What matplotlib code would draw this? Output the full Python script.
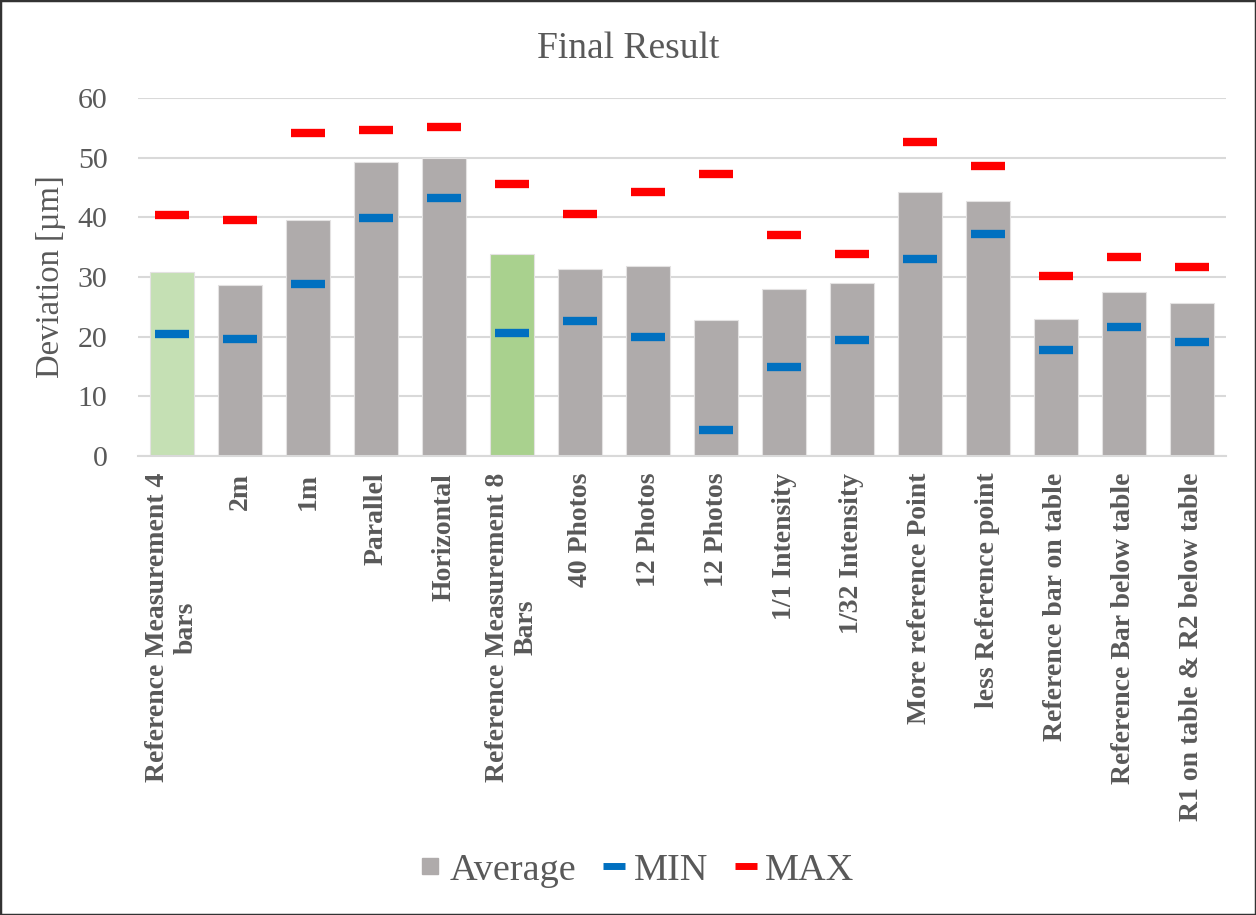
import numpy as np
import matplotlib.pyplot as plt
from matplotlib.patches import Rectangle
from matplotlib.lines import Line2D

plt.rcParams['font.family'] = ['Liberation Serif', 'DejaVu Serif']

categories = [
    "Reference Measurement 4\nbars", "2m", "1m", "Parallel", "Horizontal",
    "Reference Measurement 8\nBars", "40 Photos", "12 Photos", "12 Photos",
    "1/1 Intensity", "1/32 Intensity", "More reference Point",
    "less Reference point", "Reference bar on table",
    "Reference Bar below table", "R1 on table & R2 below table",
]
average = [30.9, 28.6, 39.5, 49.2, 50.0, 33.8, 31.3, 31.8, 22.8, 28.0, 29.0, 44.3, 42.7, 22.9, 27.5, 25.6]
minimum = [20.4, 19.6, 28.9, 39.9, 43.2, 20.7, 22.6, 19.9, 4.4, 14.9, 19.5, 33.1, 37.2, 17.8, 21.6, 19.1]
maximum = [40.4, 39.5, 54.2, 54.7, 55.2, 45.6, 40.6, 44.3, 47.2, 37.1, 33.8, 52.7, 48.6, 30.2, 33.3, 31.7]

GREY = '#AFABAB'
bar_colors = [GREY] * len(categories)
bar_colors[0] = '#C5E0B4'
bar_colors[5] = '#A9D18E'
TEXT = '#595959'

fig = plt.figure(figsize=(12.56, 9.15), dpi=100)
ax = fig.add_axes([0.1099, 0.5016, 0.8662, 0.3913])

x = np.arange(len(categories))
ax.bar(x, average, width=0.66, color=bar_colors, edgecolor='#E4E2E2', linewidth=0.8, zorder=2)
ax.plot(x, minimum, linestyle='none', marker='_', markersize=25, mew=6,
        color='#0070C0', zorder=3)
ax.plot(x, maximum, linestyle='none', marker='_', markersize=25, mew=6,
        color='#FF0000', zorder=3)

ax.set_xlim(-0.5, len(categories) - 0.5)
ax.set_ylim(0, 60)
ax.set_yticks(range(0, 61, 10))
ax.yaxis.grid(True, color='#D9D9D9', linewidth=1.5, zorder=0)
ax.set_axisbelow(True)
for side in ['top', 'right', 'left']:
    ax.spines[side].set_visible(False)
ax.spines['bottom'].set_color('#D9D9D9')
ax.spines['bottom'].set_linewidth(1.5)
ax.tick_params(axis='both', length=0, colors=TEXT)
ax.tick_params(axis='y', labelsize=21.5, pad=22)
ax.set_xticks(x, categories, rotation=90, fontsize=20, fontweight='bold',
              color=TEXT, va='top', ha='center', multialignment='center')
ax.tick_params(axis='x', pad=12)
ax.set_ylabel('Deviation [µm]', fontsize=23.5, color=TEXT, labelpad=8)

fig.suptitle('Final Result', x=0.5, y=0.966, fontsize=27, color=TEXT)

handles = [
    Line2D([], [], linestyle='none', marker='s', markersize=12, color=GREY),
    Line2D([], [], linestyle='none', marker='_', markersize=16, mew=5, color='#0070C0'),
    Line2D([], [], linestyle='none', marker='_', markersize=16, mew=5, color='#FF0000'),
]
fig.legend(handles, ['Average', 'MIN', 'MAX'], loc='center', bbox_to_anchor=(0.507, 0.049),
           ncol=3, frameon=False, fontsize=27.5, labelcolor=TEXT,
           handlelength=0.6, handletextpad=0.2, columnspacing=0.7)

# thin frame around the whole figure
fig.patches.append(Rectangle((0, 0), 1, 1, transform=fig.transFigure, fill=False,
                             edgecolor='#333333', linewidth=2.5))

fig.savefig('out.png', dpi=100)
